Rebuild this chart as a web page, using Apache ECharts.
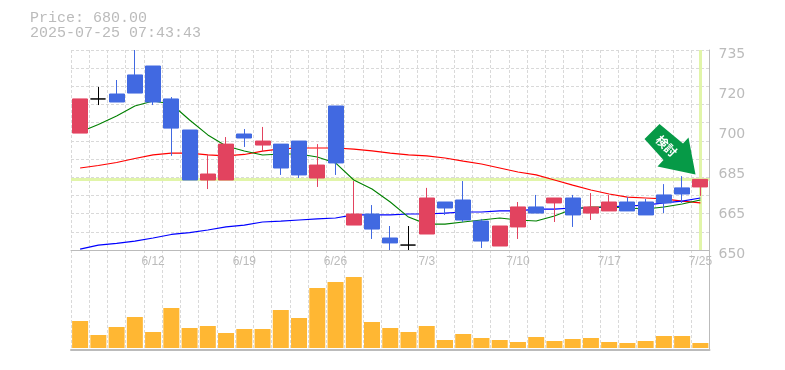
<!DOCTYPE html>
<html>
<head>
<meta charset="utf-8">
<style>html,body{margin:0;padding:0;background:#fff}#c{width:785px;height:370px}</style>
<script src="https://cdn.jsdelivr.net/npm/echarts@6/dist/echarts.min.js"></script>
</head>
<body>
<div id="c"></div>
<script>
const titleLines = ['Price: 680.00', '2025-07-25 07:43:43'];
const categories = ['6/6','6/9','6/10','6/11','6/12','6/13','6/16','6/17','6/18','6/19','6/20','6/23','6/24','6/25','6/26','6/27','6/30','7/1','7/2','7/3','7/4','7/7','7/8','7/9','7/10','7/11','7/14','7/15','7/16','7/17','7/18','7/22','7/23','7/24','7/25'];
const shownDates = ['6/12','6/19','6/26','7/3','7/10','7/17','7/25'];
const tickValues = [650,667,684,701,718,735];
const tickLabels = ['650','665','685','700','720','735'];
const currentPrice = 680;
// open, close, low, high
const candles = [
[699.7,714.2,699.7,714.2],[714.2,714.2,711.6,719.3],[716.3,712.9,712.9,722.25],[724.4,716.7,716.7,735],
[728.2,712.9,711.6,728.2],[714.2,701.8,690,715],[701,679.75,679.75,701],[679.75,682.3,675.9,690.4],
[679.75,695,679.75,698],[699.3,697.6,693.8,701.4],[694.6,696.3,691.65,702.3],[695,684.85,681.9,695],
[696.3,681.9,680.6,696.3],[680.6,686.1,676.8,695],[711.2,687,681.9,711.2],[660.6,665.3,660.6,679.3],
[665.3,658.9,654.7,669.1],[655.1,653,650,660.2],[652.1,652.1,650,660.2],[656.8,672.1,656.8,676.4],
[670.4,667.85,664.9,670.4],[671.25,662.75,661.9,679.3],[662.3,653.8,650.85,663.2],[651.7,660.2,651.7,660.2],
[659.8,668.3,654.7,670.4],[668.3,665.7,665.7,673.4],[670,672.1,661.9,672.1],[672.1,664.9,659.8,673.4],
[665.7,668.3,662.75,674.2],[666.6,670.4,666.6,673.4],[670.4,666.6,666.6,672.5],[670.4,664.9,664.9,671.7],
[673.4,670,665.7,678],[676.4,673.8,670,681.4],[676.8,680,673,680]
];
const maShort = [700.15,703.3,706.95,711.2,713.3,712.05,705.25,698.9,694.2,692.1,690.4,690.8,690.8,689.5,687,679.75,675.9,670.4,664,661,661,661.9,662.75,663.6,662.75,662.3,664.45,667.4,668.3,668.3,667.85,667.4,668.3,669.55,671.25];
const maMid = [684.85,685.9,687.2,688.9,690.4,691.2,691.2,690.4,690,690.6,692,693,693.35,693.35,693.35,692.9,692.1,691.2,690.4,690,689.1,687.8,686.55,684.85,683.15,681.9,679.75,677.6,675.5,673.8,672.5,672.1,671.7,670.8,670];
const maLong = [650.4,652.1,652.8,653.8,655.1,656.6,657.4,658.5,659.8,660.6,661.9,662.3,662.75,663.2,663.6,664.9,664.9,664.9,665.3,665.3,665.7,666.15,666.15,666.6,666.6,667.4,667.4,667.85,667.85,668.3,668.7,669.1,670,670.8,672.1];
const volumes = [27,13,21,31,16,40,20,22,15,19,19,38,30,60,66,71,26,20,16,22,8,14,10,8,6,11,7,9,10,6,5,7,12,12,5];

const GRID = '#d9d9d9', AXIS = '#bbbbbb', TEXT = '#bbbbbb', HILITE = '#e1f5a9';
const chart = echarts.init(document.getElementById('c'), null, {renderer:'canvas', width:785, height:370});
const vSplit = {show:true, interval:0, lineStyle:{color:GRID, type:[3,2], width:1}};
chart.setOption({
  animation:false,
  backgroundColor:'#fff',
  title:{text:titleLines.join('\n'), left:30, top:11, padding:0, textStyle:{color:TEXT, fontFamily:'"Liberation Mono"', fontSize:15, fontWeight:'normal', lineHeight:15}},
  grid:[
    {left:71, top:50, width:638.5, height:200},
    {left:71, top:250, width:638.5, height:100}
  ],
  xAxis:[
    {type:'category', gridIndex:0, data:categories, boundaryGap:true,
     axisLine:{show:true, onZero:false, lineStyle:{color:AXIS, width:1}}, axisTick:{show:false, interval:0},
     axisLabel:{interval:(i,v)=>shownDates.includes(v), hideOverlap:false, margin:6, color:TEXT, fontFamily:'"Liberation Sans"', fontSize:12},
     splitLine:vSplit},
    {type:'category', gridIndex:1, data:categories, boundaryGap:true,
     axisLine:{show:true, onZero:false, lineStyle:{color:AXIS, width:2}}, axisTick:{show:false, interval:0},
     axisLabel:{show:false}, splitLine:vSplit}
  ],
  yAxis:[
    {type:'value', gridIndex:0, position:'right', min:650, max:735, scale:true,
     axisLine:{show:true, lineStyle:{color:AXIS, width:1}}, axisTick:{show:false},
     axisLabel:{customValues:tickValues, formatter:v=>tickLabels[tickValues.indexOf(v)], margin:9, verticalAlign:'top', lineHeight:8, color:TEXT, fontFamily:'"DejaVu Sans"', fontSize:14},
     splitLine:{show:false}},
    {type:'value', gridIndex:0, position:'left', min:0, max:11, interval:1,
     axisLine:{show:false}, axisTick:{show:false}, axisLabel:{show:false},
     splitLine:{show:true, lineStyle:{color:GRID, type:[3,2], width:1}}},
    {type:'value', gridIndex:1, position:'right', min:-2, max:98,
     axisLine:{show:true, lineStyle:{color:AXIS, width:1}}, axisTick:{show:false}, axisLabel:{show:false}, splitLine:{show:false}}
  ],
  graphic:[
    {type:'polygon', z:50, shape:{points:[[659.5,124],[644.5,139],[663.5,160],[657.5,166.5],[695.5,174.5],[688.5,137.5],[683,143.5]]}, style:{fill:'#069a47'}},
    {type:'text', z:51, x:666.5, y:146, rotation:-Math.PI/4, style:{text:'検討', fill:'#fff', font:'bold 12px "Noto Sans CJK JP"', align:'center', verticalAlign:'middle'}}
  ],
  series:[
    {type:'line', name:'hilite', xAxisIndex:0, yAxisIndex:0, data:[], z:1, symbol:'none',
     markLine:{silent:true, z:1, symbol:'none', label:{show:false}, animation:false,
       lineStyle:{color:HILITE, width:3, type:'solid'},
       data:[{yAxis:currentPrice},{xAxis:categories[categories.length-1]}]}},
    {type:'line', name:'mid', xAxisIndex:0, yAxisIndex:0, data:maMid, z:2, symbol:'none', lineStyle:{color:'#ff0000', width:1.2}},
    {type:'line', name:'long', xAxisIndex:0, yAxisIndex:0, data:maLong, z:2, symbol:'none', lineStyle:{color:'#0000ff', width:1.2}},
    {type:'line', name:'short', xAxisIndex:0, yAxisIndex:0, data:maShort, z:2, symbol:'none', lineStyle:{color:'#008000', width:1.1}},
    {type:'candlestick', xAxisIndex:0, yAxisIndex:0, data:candles, z:3, barWidth:15.5,
     itemStyle:{color:'#e2435f', color0:'#4169e1', borderColor:'#e2435f', borderColor0:'#4169e1', borderColorDoji:'#000000', borderWidth:1}},
    {type:'bar', xAxisIndex:1, yAxisIndex:2, data:volumes, barWidth:16, itemStyle:{color:'#ffb733'}, z:3}
  ]
});
</script>
</body>
</html>
